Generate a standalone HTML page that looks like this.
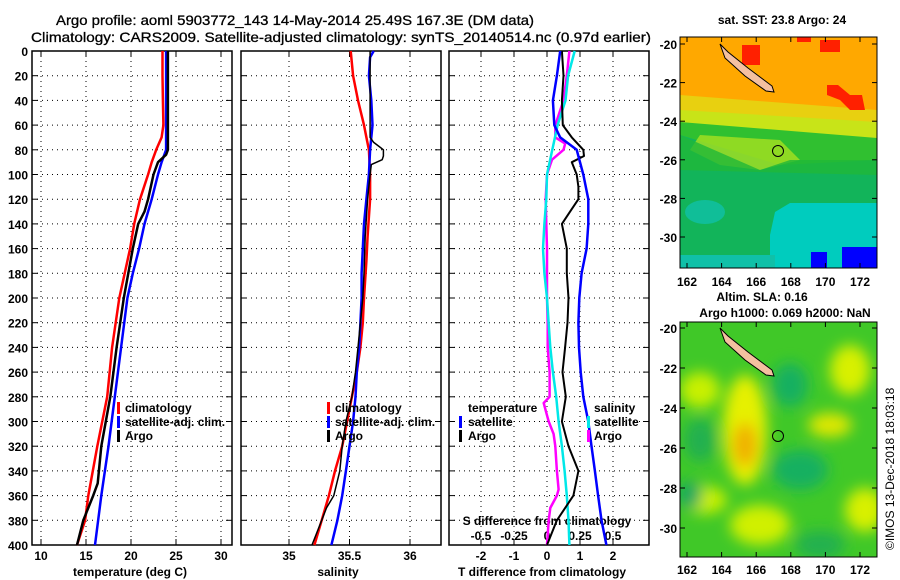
<!DOCTYPE html>
<html><head><meta charset="utf-8">
<style>
html,body{margin:0;padding:0;background:#fff;}
svg{display:block;font-family:"Liberation Sans",Arial,sans-serif;font-weight:bold;}
text{font-size:12px;fill:#000;}
.t{font-size:14px;font-weight:normal;stroke:#000;stroke-width:0.3;}
</style></head>
<body>
<svg id="c" width="900" height="580" viewBox="0 0 900 580">
<defs>
<filter id="blur" x="-20%" y="-20%" width="140%" height="140%"><feGaussianBlur stdDeviation="7"/></filter>
<clipPath id="clipA"><rect x="680" y="37" width="197" height="231"/></clipPath>
<clipPath id="clipB"><rect x="680" y="322" width="197" height="235"/></clipPath>
</defs>
<text class="t" x="56" y="25" textLength="478" lengthAdjust="spacingAndGlyphs">Argo profile: aoml 5903772_143 14-May-2014 25.49S 167.3E (DM data)</text>
<text class="t" x="31" y="42" textLength="620" lengthAdjust="spacingAndGlyphs">Climatology: CARS2009. Satellite-adjusted climatology: synTS_20140514.nc (0.97d earlier)</text>

<!-- top map -->
<g clip-path="url(#clipA)">
<rect x="680" y="37" width="197" height="231" fill="#12b45a"/>
<rect x="680" y="37" width="197" height="75" fill="#ffa800"/>
<polygon points="680,95 877,110 877,125 680,115" fill="#e8d010"/>
<polygon points="680,110 877,122 877,140 680,125" fill="#c8e418"/>
<polygon points="680,122 877,138 877,160 780,165 680,135" fill="#30c030"/>
<polygon points="700,135 780,140 800,160 760,170 720,165 690,150" fill="#a8e020" opacity="0.8"/>
<polygon points="680,135 760,170 790,160 877,160 877,175 680,170" fill="#20b838" opacity="0.8"/>
<polygon points="775,212 790,203 877,203 877,268 770,268 770,235" fill="#00ccbe"/>
<ellipse cx="705" cy="212" rx="20" ry="12" fill="#10c0a8" opacity="0.8"/>
<rect x="680" y="255" width="95" height="13" fill="#10c0a8"/>
<polygon points="811,268 811,252 827,252 827,268" fill="#0000ff"/>
<polygon points="842,268 842,247 877,247 877,268" fill="#0000ff"/>
<rect x="742" y="45" width="18" height="20" fill="#ff2000"/>
<rect x="820" y="40" width="20" height="12" fill="#ff2000"/>
<polygon points="827,85 838,85 850,95 862,95 865,110 850,110 840,100 827,95" fill="#ff2000"/>
<rect x="797" y="37" width="14" height="5" fill="#ff2000"/>
</g>
<g>
<polygon points="720,44 728,52 748,68 772,86 774,92 766,91 745,76 725,58" fill="#f4c0a0" stroke="#000" stroke-width="1"/>
<circle cx="778" cy="151" r="5.5" fill="none" stroke="#000" stroke-width="1"/>
</g>
<rect x="680" y="37" width="197" height="231" fill="none" stroke="#000"/>
<text x="782" y="24" text-anchor="middle">sat. SST: 23.8 Argo: 24</text>

<!-- bottom map -->
<g clip-path="url(#clipB)">
<rect x="680" y="322" width="197" height="235" fill="#40c828"/>
<g filter="url(#blur)">
<ellipse cx="745" cy="430" rx="22" ry="55" fill="#e6f000"/>
<ellipse cx="745" cy="445" rx="12" ry="22" fill="#f0b000"/>
<ellipse cx="700" cy="390" rx="20" ry="18" fill="#c8f000"/>
<ellipse cx="850" cy="370" rx="20" ry="25" fill="#d8f000"/>
<ellipse cx="830" cy="425" rx="22" ry="12" fill="#e0e800"/>
<ellipse cx="865" cy="510" rx="20" ry="22" fill="#d8f000"/>
<ellipse cx="760" cy="525" rx="30" ry="20" fill="#d0f000"/>
<ellipse cx="705" cy="500" rx="22" ry="14" fill="#c8f000"/>
<ellipse cx="800" cy="470" rx="28" ry="20" fill="#18b060"/>
<ellipse cx="790" cy="385" rx="18" ry="22" fill="#18b060"/>
<ellipse cx="700" cy="440" rx="16" ry="22" fill="#20b050"/>
<ellipse cx="690" cy="495" rx="12" ry="14" fill="#18a860"/>
<ellipse cx="820" cy="545" rx="25" ry="14" fill="#20b050"/>
</g>
</g>
<g>
<polygon points="720,328 728,336 748,352 772,370 774,376 766,375 745,360 725,342" fill="#f4c0a0" stroke="#000" stroke-width="1"/>
<circle cx="778" cy="436" r="5.5" fill="none" stroke="#000" stroke-width="1"/>
</g>
<rect x="680" y="322" width="197" height="235" fill="none" stroke="#000"/>
<text x="762" y="301" text-anchor="middle">Altim. SLA: 0.16</text>
<text x="785" y="317" text-anchor="middle">Argo h1000: 0.069 h2000: NaN</text>
<text transform="translate(894,550) rotate(-90)" style="font-weight:normal">©IMOS 13-Dec-2018 18:03:18</text>
<g id="g"></g>
</svg>
<script>
// ---- data ----
const depthClim = [0,20,40,60,70,80,90,100,120,140,160,180,200,240,280,320,360,380,400];
const tempClim = [23.5,23.5,23.55,23.6,23.4,22.8,22.3,21.9,21.0,20.35,19.9,19.3,18.7,17.9,17.35,16.25,15.25,14.9,14.0];
const depthArgoT = [0,40,80,84,90,100,120,130,140,160,180,200,240,280,300,320,350,360,380,400];
const tempArgo = [24.1,24.1,24.1,23.9,23.0,22.5,21.9,21.5,20.8,20.2,19.7,19.2,18.4,17.7,17.2,16.7,16.3,15.8,14.7,14.0];
const depthSatT = [0,80,90,100,120,140,160,180,200,240,280,320,360,400];
const tempSat = [23.9,23.9,23.4,23.0,22.3,21.5,20.9,20.2,19.6,18.9,18.2,17.5,16.7,16.0];

const depthSal = [0,20,40,60,70,80,100,120,150,170,200,220,240,260,280,300,320,340,360,380,400];
const salClim = [35.51,35.53,35.57,35.62,35.64,35.66,35.67,35.67,35.65,35.64,35.62,35.61,35.59,35.56,35.52,35.48,35.44,35.38,35.33,35.27,35.21];
const depthArgoS = [0,70,74,80,85,88,92,100,120,150,180,200,240,260,280,300,320,340,360,370,380,400];
const salArgo = [35.67,35.67,35.70,35.78,35.78,35.77,35.68,35.67,35.65,35.63,35.62,35.61,35.57,35.55,35.52,35.47,35.44,35.42,35.37,35.31,35.27,35.19];
const depthSatS = [0,5,20,40,60,80,100,120,140,160,180,200,220,240,260,280,300,320,340,360,380,400];
const salSat = [35.70,35.67,35.66,35.68,35.69,35.67,35.66,35.64,35.62,35.61,35.60,35.60,35.59,35.58,35.56,35.55,35.53,35.50,35.47,35.44,35.40,35.35];

const depthDT = [0,20,40,60,70,80,100,120,140,160,180,200,220,240,260,280,300,320,340,360,380,400];
const dTSat = [0.4,0.3,0.18,0.22,0.4,0.9,1.1,1.25,1.25,1.2,1.05,0.98,0.95,0.97,1.02,1.1,1.25,1.35,1.45,1.55,1.65,1.8];
const depthDTA = [0,20,40,60,70,80,85,90,100,110,120,130,140,160,180,200,220,240,260,280,300,320,340,360,380,400];
const dTArgo = [0.45,0.5,0.45,0.48,0.75,1.1,1.12,0.75,0.9,0.95,0.95,0.7,0.45,0.6,0.6,0.65,0.62,0.55,0.47,0.57,0.45,0.65,0.95,0.8,0.3,0.0];
const depthDS = [0,20,40,60,80,100,120,140,160,180,200,220,240,260,280,300,320,340,360,380,400];
const dSSat = [0.21,0.16,0.14,0.08,0.04,0.0,-0.005,-0.02,-0.03,-0.02,0.0,0.012,0.025,0.045,0.07,0.088,0.113,0.133,0.15,0.163,0.17];
const depthDSA = [0,20,40,60,70,75,80,88,92,100,120,140,160,200,220,240,260,280,285,295,300,310,320,340,355,360,370,380,400];
const dSArgo = [0.17,0.15,0.125,0.063,0.063,0.138,0.125,0.038,0.025,0.0,-0.01,-0.005,0.0,0.0,0.005,0.005,0.02,0.02,-0.025,0.0,0.013,0.05,0.063,0.075,0.088,0.075,0.025,0.013,0.0];

const tTicks = ["10","15","20","25","30"];
const sTicks = ["35","35.5","36"];
const dtTicks = ["-2","-1","0","1","2"];
const dsTicks = ["-0.5","-0.25","0","0.25","0.5"];
const depthTicks = [0,20,40,60,80,100,120,140,160,180,200,220,240,260,280,300,320,340,360,380,400];

// ---- axes ----
const Y0=51, Y1=545;
const yD = d => Y0 + d*(Y1-Y0)/400;
const xT = t => 41 + (t-10)*9.0;
const xS = s => 289 + (s-35)*121;
const xDT = t => 547 + t*33;
const xDS = s => 547 + s*132;
const NS="http://www.w3.org/2000/svg";
const G=document.getElementById('g');
function mk(tag, attrs, parent){const e=document.createElementNS(NS,tag);for(const k in attrs)e.setAttribute(k,attrs[k]);(parent||G).appendChild(e);return e;}
function txt(x,y,s,anchor,name){const e=mk('text',{x:x,y:y,'text-anchor':anchor||'middle'});e.textContent=s;


return e;}

function panel(L,R,name){
  const g=mk('g',{});
  
  
  depthTicks.forEach(d=>{ if(d>0&&d<400) mk('line',{x1:L,x2:R,y1:yD(d),y2:yD(d),stroke:'#000','stroke-dasharray':'1,4','stroke-width':1},g);
    mk('line',{x1:L,x2:L+6,y1:yD(d),y2:yD(d),stroke:'#000'},g); mk('line',{x1:R-6,x2:R,y1:yD(d),y2:yD(d),stroke:'#000'},g);});
  return g;
}
function vgrid(g,xs){xs.forEach(x=>{mk('line',{x1:x,x2:x,y1:Y0,y2:Y1,stroke:'#000','stroke-dasharray':'1,4'},g);mk('line',{x1:x,x2:x,y1:Y1-6,y2:Y1,stroke:'#000'},g);mk('line',{x1:x,x2:x,y1:Y0,y2:Y0+6,stroke:'#000'},g);});}
function frame(g,L,R){mk('rect',{x:L,y:Y0,width:R-L,height:Y1-Y0,fill:'none',stroke:'#000','stroke-width':1.5},g);}
function line(xs,ds,xf,color,w,name){
  const pts=xs.map((v,i)=>xf(v).toFixed(1)+','+yD(ds[i]).toFixed(1)).join(' ');
  const p=mk('polyline',{points:pts,fill:'none',stroke:color,'stroke-width':w,'stroke-linejoin':'round'});
  
  
}
function legendBar(x,y,color,name){const b=mk('rect',{x:x,y:y-11,width:3,height:12,fill:color});
  
  }

// panel 1
let g1=panel(32,232,'temperature-panel');
vgrid(g1,tTicks.map(v=>xT(+v)));
depthTicks.forEach(d=>txt(28,yD(d)+5,String(d),'end','depth-tick-label'));
tTicks.forEach(v=>txt(xT(+v),560,v,'middle','temperature-tick-label'));
line(tempClim,depthClim,xT,'#ff0000',2.5,'temperature-climatology-line');
line(tempSat,depthSatT,xT,'#0000ff',2.5,'temperature-satellite-line');
line(tempArgo,depthArgoT,xT,'#000',2.5,'temperature-argo-line');
frame(g1,32,232);
txt(130,576,'temperature (deg C)','middle','temperature-axis-title');
legendBar(117,413,'#ff0000','legend-climatology-swatch');txt(125,412,'climatology','start','legend-climatology');
legendBar(117,427,'#0000ff','legend-satellite-swatch');txt(125,426,'satellite-adj. clim.','start','legend-satellite');
legendBar(117,441,'#000','legend-argo-swatch');txt(125,440,'Argo','start','legend-argo');

// panel 2
let g2=panel(241,441,'salinity-panel');
vgrid(g2,sTicks.map(v=>xS(+v)));
sTicks.forEach(v=>txt(xS(+v),560,v,'middle','salinity-tick-label'));
line(salClim,depthSal,xS,'#ff0000',2.5,'salinity-climatology-line');
line(salSat,depthSatS,xS,'#0000ff',2.5,'salinity-satellite-line');
line(salArgo,depthArgoS,xS,'#000',1.5,'salinity-argo-line');
frame(g2,241,441);
txt(338,576,'salinity','middle','salinity-axis-title');
legendBar(327,413,'#ff0000','legend-climatology-swatch-2');txt(335,412,'climatology','start','legend-climatology-2');
legendBar(327,427,'#0000ff','legend-satellite-swatch-2');txt(335,426,'satellite-adj. clim.','start','legend-satellite-2');
legendBar(327,441,'#000','legend-argo-swatch-2');txt(335,440,'Argo','start','legend-argo-2');

// panel 3
let g3=panel(449,649,'difference-panel');
vgrid(g3,dtTicks.map(v=>xDT(+v)));
dtTicks.forEach(v=>txt(xDT(+v),560,v,'middle','t-difference-tick-label'));
dsTicks.forEach(v=>txt(xDS(+v),540,v,'middle','s-difference-tick-label'));
txt(547,525,'S difference from climatology','middle','s-difference-axis-title');
line(dSArgo,depthDSA,xDS,'#ff00ff',2.5,'s-diff-argo-line');
line(dSSat,depthDS,xDS,'#00e8e8',2.5,'s-diff-satellite-line');
line(dTArgo,depthDTA,xDT,'#000',2,'t-diff-argo-line');
line(dTSat,depthDT,xDT,'#0000ff',2.5,'t-diff-satellite-line');
frame(g3,449,649);
txt(542,576,'T difference from climatology','middle','t-difference-axis-title');
txt(468,412,'temperature','start','legend-temperature-header');
legendBar(459,427,'#0000ff','legend-t-satellite-swatch');txt(468,426,'satellite','start','legend-t-satellite');
legendBar(459,441,'#000','legend-t-argo-swatch');txt(468,440,'Argo','start','legend-t-argo');
txt(594,412,'salinity','start','legend-salinity-header');
legendBar(587,427,'#00e8e8','legend-s-satellite-swatch');txt(594,426,'satellite','start','legend-s-satellite');
legendBar(587,441,'#ff00ff','legend-s-argo-swatch');txt(594,440,'Argo','start','legend-s-argo');

// map axes
const latTicks = ["-20","-22","-24","-26","-28","-30"];
const lonTicks = ["162","164","166","168","170","172"];
function mapAxes(top,bot,lat20,lat30,labY,pre){
  latTicks.forEach((v,i)=>{const y=lat20+i*(lat30-lat20)/5;txt(677,y+5,v,'end',pre+'-lat-tick-label');
    mk('line',{x1:680,x2:685,y1:y,y2:y,stroke:'#000'});mk('line',{x1:872,x2:877,y1:y,y2:y,stroke:'#000'});});
  lonTicks.forEach((v,i)=>{const x=687+i*34.6;txt(x,labY,v,'middle',pre+'-lon-tick-label');
    mk('line',{x1:x,x2:x,y1:bot-5,y2:bot,stroke:'#000'});mk('line',{x1:x,x2:x,y1:top,y2:top+5,stroke:'#000'});});
}
mapAxes(37,268,44,237,286,'sst');
mapAxes(322,557,328,528,574,'sla');
</script>
</body></html>
